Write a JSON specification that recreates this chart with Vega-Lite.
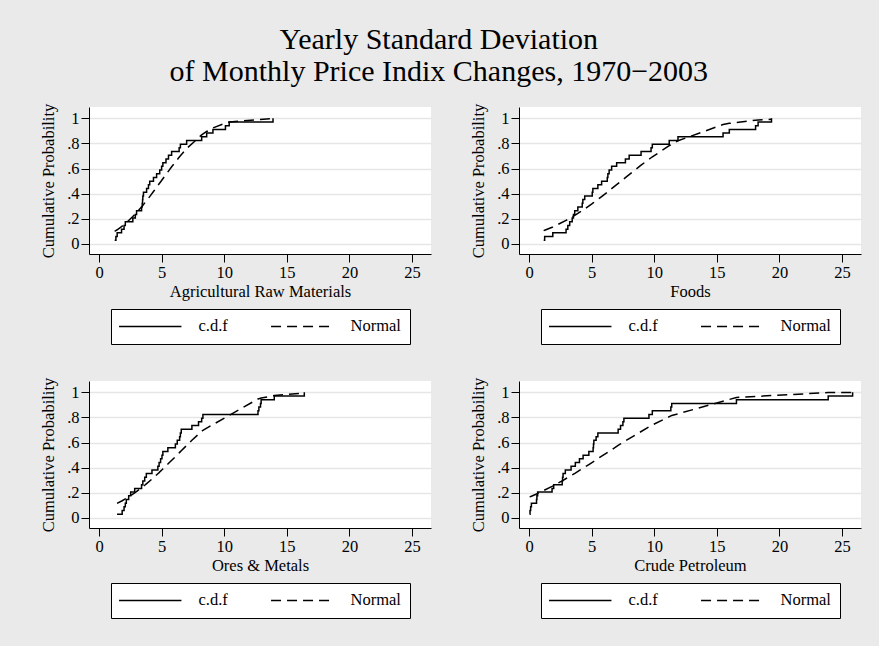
{
  "$schema": "https://vega.github.io/schema/vega-lite/v6.json",
  "background": "#EAEAEA",
  "padding": {"left": 40, "top": 25, "right": 18, "bottom": 29},
  "title": {
    "text": ["Yearly Standard Deviation", "of Monthly Price Indix Changes, 1970−2003"],
    "font": "Liberation Serif",
    "fontSize": 30,
    "fontWeight": "normal",
    "lineHeight": 32,
    "color": "black",
    "anchor": "middle",
    "dx": -12,
    "offset": 16
  },
  "datasets": {
    "agr": [
      {"x": 1.25, "cdf": 0.0294, "normal": 0.100},
      {"x": 1.35, "cdf": 0.0588, "normal": 0.107},
      {"x": 1.45, "cdf": 0.0882, "normal": 0.113},
      {"x": 1.8, "cdf": 0.1176, "normal": 0.138},
      {"x": 2.0, "cdf": 0.1471, "normal": 0.154},
      {"x": 2.1, "cdf": 0.1765, "normal": 0.162},
      {"x": 2.7, "cdf": 0.2059, "normal": 0.218},
      {"x": 2.9, "cdf": 0.2353, "normal": 0.239},
      {"x": 3.0, "cdf": 0.2647, "normal": 0.250},
      {"x": 3.4, "cdf": 0.2941, "normal": 0.295},
      {"x": 3.45, "cdf": 0.3235, "normal": 0.301},
      {"x": 3.48, "cdf": 0.3529, "normal": 0.305},
      {"x": 3.5, "cdf": 0.3824, "normal": 0.307},
      {"x": 3.55, "cdf": 0.4118, "normal": 0.313},
      {"x": 3.8, "cdf": 0.4412, "normal": 0.345},
      {"x": 3.95, "cdf": 0.4706, "normal": 0.364},
      {"x": 4.05, "cdf": 0.5, "normal": 0.377},
      {"x": 4.35, "cdf": 0.5294, "normal": 0.417},
      {"x": 4.6, "cdf": 0.5588, "normal": 0.451},
      {"x": 4.85, "cdf": 0.5882, "normal": 0.485},
      {"x": 5.0, "cdf": 0.6176, "normal": 0.505},
      {"x": 5.1, "cdf": 0.6471, "normal": 0.519},
      {"x": 5.35, "cdf": 0.6765, "normal": 0.553},
      {"x": 5.55, "cdf": 0.7059, "normal": 0.580},
      {"x": 5.8, "cdf": 0.7353, "normal": 0.614},
      {"x": 6.4, "cdf": 0.7647, "normal": 0.690},
      {"x": 6.5, "cdf": 0.7941, "normal": 0.702},
      {"x": 7.0, "cdf": 0.8235, "normal": 0.759},
      {"x": 8.2, "cdf": 0.8529, "normal": 0.868},
      {"x": 8.6, "cdf": 0.8824, "normal": 0.895},
      {"x": 9.1, "cdf": 0.9118, "normal": 0.923},
      {"x": 10.1, "cdf": 0.9412, "normal": 0.962},
      {"x": 10.4, "cdf": 0.9706, "normal": 0.970},
      {"x": 13.9, "cdf": 1.0, "normal": 0.999}
    ],
    "food": [
      {"x": 1.17, "cdf": 0.0294, "normal": 0.106},
      {"x": 1.25, "cdf": 0.0588, "normal": 0.109},
      {"x": 1.9, "cdf": 0.0882, "normal": 0.135},
      {"x": 2.96, "cdf": 0.1176, "normal": 0.188},
      {"x": 3.1, "cdf": 0.1471, "normal": 0.195},
      {"x": 3.25, "cdf": 0.1765, "normal": 0.204},
      {"x": 3.45, "cdf": 0.2059, "normal": 0.215},
      {"x": 3.55, "cdf": 0.2353, "normal": 0.221},
      {"x": 3.65, "cdf": 0.2647, "normal": 0.227},
      {"x": 3.9, "cdf": 0.2941, "normal": 0.243},
      {"x": 4.25, "cdf": 0.3235, "normal": 0.266},
      {"x": 4.3, "cdf": 0.3529, "normal": 0.269},
      {"x": 4.45, "cdf": 0.3824, "normal": 0.279},
      {"x": 5.05, "cdf": 0.4118, "normal": 0.321},
      {"x": 5.1, "cdf": 0.4412, "normal": 0.325},
      {"x": 5.5, "cdf": 0.4706, "normal": 0.354},
      {"x": 5.8, "cdf": 0.5, "normal": 0.377},
      {"x": 6.25, "cdf": 0.5294, "normal": 0.412},
      {"x": 6.3, "cdf": 0.5588, "normal": 0.416},
      {"x": 6.4, "cdf": 0.5882, "normal": 0.424},
      {"x": 6.6, "cdf": 0.6176, "normal": 0.440},
      {"x": 7.0, "cdf": 0.6471, "normal": 0.472},
      {"x": 7.7, "cdf": 0.6765, "normal": 0.528},
      {"x": 8.0, "cdf": 0.7059, "normal": 0.552},
      {"x": 8.95, "cdf": 0.7353, "normal": 0.627},
      {"x": 9.75, "cdf": 0.7647, "normal": 0.686},
      {"x": 9.85, "cdf": 0.7941, "normal": 0.693},
      {"x": 11.2, "cdf": 0.8235, "normal": 0.782},
      {"x": 11.9, "cdf": 0.8529, "normal": 0.821},
      {"x": 15.5, "cdf": 0.8824, "normal": 0.950},
      {"x": 16.0, "cdf": 0.9118, "normal": 0.960},
      {"x": 18.1, "cdf": 0.9412, "normal": 0.985},
      {"x": 18.3, "cdf": 0.9706, "normal": 0.987},
      {"x": 19.37, "cdf": 1.0, "normal": 0.992}
    ],
    "ores": [
      {"x": 1.44, "cdf": 0.0294, "normal": 0.116},
      {"x": 1.85, "cdf": 0.0588, "normal": 0.137},
      {"x": 2.0, "cdf": 0.0882, "normal": 0.146},
      {"x": 2.1, "cdf": 0.1176, "normal": 0.152},
      {"x": 2.18, "cdf": 0.1471, "normal": 0.156},
      {"x": 2.37, "cdf": 0.1765, "normal": 0.168},
      {"x": 2.53, "cdf": 0.2059, "normal": 0.178},
      {"x": 2.85, "cdf": 0.2353, "normal": 0.200},
      {"x": 3.4, "cdf": 0.2647, "normal": 0.240},
      {"x": 3.5, "cdf": 0.2941, "normal": 0.248},
      {"x": 3.65, "cdf": 0.3235, "normal": 0.260},
      {"x": 3.78, "cdf": 0.3529, "normal": 0.271},
      {"x": 4.23, "cdf": 0.3824, "normal": 0.309},
      {"x": 4.7, "cdf": 0.4118, "normal": 0.352},
      {"x": 4.8, "cdf": 0.4412, "normal": 0.361},
      {"x": 4.92, "cdf": 0.4706, "normal": 0.373},
      {"x": 5.03, "cdf": 0.5, "normal": 0.383},
      {"x": 5.1, "cdf": 0.5294, "normal": 0.390},
      {"x": 5.5, "cdf": 0.5588, "normal": 0.429},
      {"x": 6.1, "cdf": 0.5882, "normal": 0.488},
      {"x": 6.25, "cdf": 0.6176, "normal": 0.503},
      {"x": 6.44, "cdf": 0.6471, "normal": 0.522},
      {"x": 6.5, "cdf": 0.6765, "normal": 0.528},
      {"x": 6.57, "cdf": 0.7059, "normal": 0.535},
      {"x": 7.42, "cdf": 0.7353, "normal": 0.618},
      {"x": 7.95, "cdf": 0.7647, "normal": 0.667},
      {"x": 8.2, "cdf": 0.7941, "normal": 0.690},
      {"x": 8.3, "cdf": 0.8235, "normal": 0.698},
      {"x": 12.7, "cdf": 0.8529, "normal": 0.947},
      {"x": 12.77, "cdf": 0.8824, "normal": 0.949},
      {"x": 12.9, "cdf": 0.9118, "normal": 0.953},
      {"x": 12.95, "cdf": 0.9412, "normal": 0.954},
      {"x": 14.0, "cdf": 0.9706, "normal": 0.974},
      {"x": 16.4, "cdf": 1.0, "normal": 0.995}
    ],
    "crude": [
      {"x": 0.05, "cdf": 0.0294, "normal": 0.168},
      {"x": 0.08, "cdf": 0.0588, "normal": 0.169},
      {"x": 0.13, "cdf": 0.0882, "normal": 0.171},
      {"x": 0.19, "cdf": 0.1176, "normal": 0.173},
      {"x": 0.6, "cdf": 0.1471, "normal": 0.191},
      {"x": 0.63, "cdf": 0.1765, "normal": 0.192},
      {"x": 0.69, "cdf": 0.2059, "normal": 0.195},
      {"x": 1.84, "cdf": 0.2353, "normal": 0.251},
      {"x": 1.97, "cdf": 0.2647, "normal": 0.258},
      {"x": 2.65, "cdf": 0.2941, "normal": 0.295},
      {"x": 2.68, "cdf": 0.3235, "normal": 0.297},
      {"x": 2.72, "cdf": 0.3529, "normal": 0.299},
      {"x": 2.9, "cdf": 0.3824, "normal": 0.310},
      {"x": 3.36, "cdf": 0.4118, "normal": 0.337},
      {"x": 3.7, "cdf": 0.4412, "normal": 0.357},
      {"x": 4.03, "cdf": 0.4706, "normal": 0.378},
      {"x": 4.32, "cdf": 0.5, "normal": 0.396},
      {"x": 4.78, "cdf": 0.5294, "normal": 0.425},
      {"x": 5.12, "cdf": 0.5588, "normal": 0.447},
      {"x": 5.15, "cdf": 0.5882, "normal": 0.449},
      {"x": 5.18, "cdf": 0.6176, "normal": 0.451},
      {"x": 5.36, "cdf": 0.6471, "normal": 0.463},
      {"x": 5.5, "cdf": 0.6765, "normal": 0.472},
      {"x": 7.12, "cdf": 0.7059, "normal": 0.577},
      {"x": 7.31, "cdf": 0.7353, "normal": 0.589},
      {"x": 7.5, "cdf": 0.7647, "normal": 0.601},
      {"x": 7.58, "cdf": 0.7941, "normal": 0.606},
      {"x": 9.58, "cdf": 0.8235, "normal": 0.725},
      {"x": 9.85, "cdf": 0.8529, "normal": 0.740},
      {"x": 11.33, "cdf": 0.8824, "normal": 0.812},
      {"x": 11.4, "cdf": 0.9118, "normal": 0.815},
      {"x": 16.57, "cdf": 0.9412, "normal": 0.959},
      {"x": 23.9, "cdf": 0.9706, "normal": 0.998},
      {"x": 25.85, "cdf": 1.0, "normal": 0.9995}
    ]
  },
  "concat": [
    {
      "width": 342, "height": 147,
      "data": {"name": "agr"},
      "encoding": {"x": {"field": "x", "type": "quantitative", "scale": {"domain": [-0.8, 26.52], "nice": false, "zero": false}, "axis": {"title": "Agricultural Raw Materials", "values": [0, 5, 10, 15, 20, 25]}}},
      "layer": [
        {"mark": {"type": "line", "interpolate": "step-after", "color": "black", "strokeWidth": 1.5},
         "encoding": {"y": {"field": "cdf", "type": "quantitative", "scale": {"domain": [-0.08, 1.09], "nice": false, "zero": false}, "axis": {"title": "Cumulative Probability", "values": [0, 0.2, 0.4, 0.6, 0.8, 1]}},
                      "strokeDash": {"datum": "c.d.f", "scale": {"domain": ["c.d.f", "Normal"], "range": [[1, 0], [10, 6]]}}}},
        {"mark": {"type": "line", "color": "black", "strokeWidth": 1.5},
         "encoding": {"y": {"field": "normal", "type": "quantitative", "scale": {"domain": [-0.08, 1.09], "nice": false, "zero": false}, "axis": {"title": "Cumulative Probability", "values": [0, 0.2, 0.4, 0.6, 0.8, 1]}},
                      "strokeDash": {"datum": "Normal"}}}
      ]
    },
    {
      "width": 342, "height": 147,
      "data": {"name": "food"},
      "encoding": {"x": {"field": "x", "type": "quantitative", "scale": {"domain": [-0.8, 26.52], "nice": false, "zero": false}, "axis": {"title": "Foods", "values": [0, 5, 10, 15, 20, 25]}}},
      "layer": [
        {"mark": {"type": "line", "interpolate": "step-after", "color": "black", "strokeWidth": 1.5},
         "encoding": {"y": {"field": "cdf", "type": "quantitative", "scale": {"domain": [-0.08, 1.09], "nice": false, "zero": false}, "axis": {"title": "Cumulative Probability", "values": [0, 0.2, 0.4, 0.6, 0.8, 1]}},
                      "strokeDash": {"datum": "c.d.f", "scale": {"domain": ["c.d.f", "Normal"], "range": [[1, 0], [10, 6]]}}}},
        {"mark": {"type": "line", "color": "black", "strokeWidth": 1.5},
         "encoding": {"y": {"field": "normal", "type": "quantitative", "scale": {"domain": [-0.08, 1.09], "nice": false, "zero": false}, "axis": {"title": "Cumulative Probability", "values": [0, 0.2, 0.4, 0.6, 0.8, 1]}},
                      "strokeDash": {"datum": "Normal"}}}
      ]
    },
    {
      "width": 342, "height": 147,
      "data": {"name": "ores"},
      "encoding": {"x": {"field": "x", "type": "quantitative", "scale": {"domain": [-0.8, 26.52], "nice": false, "zero": false}, "axis": {"title": "Ores & Metals", "values": [0, 5, 10, 15, 20, 25]}}},
      "layer": [
        {"mark": {"type": "line", "interpolate": "step-after", "color": "black", "strokeWidth": 1.5},
         "encoding": {"y": {"field": "cdf", "type": "quantitative", "scale": {"domain": [-0.08, 1.09], "nice": false, "zero": false}, "axis": {"title": "Cumulative Probability", "values": [0, 0.2, 0.4, 0.6, 0.8, 1]}},
                      "strokeDash": {"datum": "c.d.f", "scale": {"domain": ["c.d.f", "Normal"], "range": [[1, 0], [10, 6]]}}}},
        {"mark": {"type": "line", "color": "black", "strokeWidth": 1.5},
         "encoding": {"y": {"field": "normal", "type": "quantitative", "scale": {"domain": [-0.08, 1.09], "nice": false, "zero": false}, "axis": {"title": "Cumulative Probability", "values": [0, 0.2, 0.4, 0.6, 0.8, 1]}},
                      "strokeDash": {"datum": "Normal"}}}
      ]
    },
    {
      "width": 342, "height": 147,
      "data": {"name": "crude"},
      "encoding": {"x": {"field": "x", "type": "quantitative", "scale": {"domain": [-0.8, 26.52], "nice": false, "zero": false}, "axis": {"title": "Crude Petroleum", "values": [0, 5, 10, 15, 20, 25]}}},
      "layer": [
        {"mark": {"type": "line", "interpolate": "step-after", "color": "black", "strokeWidth": 1.5},
         "encoding": {"y": {"field": "cdf", "type": "quantitative", "scale": {"domain": [-0.08, 1.09], "nice": false, "zero": false}, "axis": {"title": "Cumulative Probability", "values": [0, 0.2, 0.4, 0.6, 0.8, 1]}},
                      "strokeDash": {"datum": "c.d.f", "scale": {"domain": ["c.d.f", "Normal"], "range": [[1, 0], [10, 6]]}}}},
        {"mark": {"type": "line", "color": "black", "strokeWidth": 1.5},
         "encoding": {"y": {"field": "normal", "type": "quantitative", "scale": {"domain": [-0.08, 1.09], "nice": false, "zero": false}, "axis": {"title": "Cumulative Probability", "values": [0, 0.2, 0.4, 0.6, 0.8, 1]}},
                      "strokeDash": {"datum": "Normal"}}}
      ]
    }
  ],
  "columns": 2,
  "spacing": {"row": 127, "column": 88},
  "bounds": "flush",
  "resolve": {"scale": {"strokeDash": "independent"}, "legend": {"strokeDash": "independent"}},
  "config": {
    "font": "Liberation Serif",
    "view": {"stroke": null, "fill": "white"},
    "axis": {
      "labelFont": "Liberation Serif",
      "labelFontSize": 16.5,
      "labelColor": "black",
      "titleFont": "Liberation Serif",
      "titleFontSize": 16.5,
      "titleFontWeight": "normal",
      "titleColor": "black",
      "domainColor": "black",
      "domainWidth": 1,
      "tickColor": "black",
      "tickWidth": 1,
      "tickSize": 8,
      "labelPadding": 2,
      "gridColor": "#E6E6E6",
      "gridWidth": 1.5
    },
    "axisX": {"grid": false, "titlePadding": 3, "labelFlush": false},
    "axisY": {
      "grid": true,
      "labelExpr": "datum.value == 0 ? '0' : datum.value == 1 ? '1' : '.' + round(datum.value * 10)",
      "titlePadding": 10,
      "labelFlush": false
    },
    "legend": {
      "orient": "none",
      "legendX": 22,
      "legendY": 202,
      "direction": "horizontal",
      "title": null,
      "symbolType": "M-5.2,0H5.2",
      "symbolSize": 144,
      "symbolOffset": 22,
      "symbolStrokeWidth": 1.5,
      "symbolStrokeColor": "black",
      "labelFont": "Liberation Serif",
      "labelFontSize": 16.5,
      "labelColor": "black",
      "labelOffset": 40,
      "columnPadding": 40,
      "padding": 9,
      "strokeColor": "black",
      "fillColor": "white",
      "cornerRadius": 0
    }
  }
}
